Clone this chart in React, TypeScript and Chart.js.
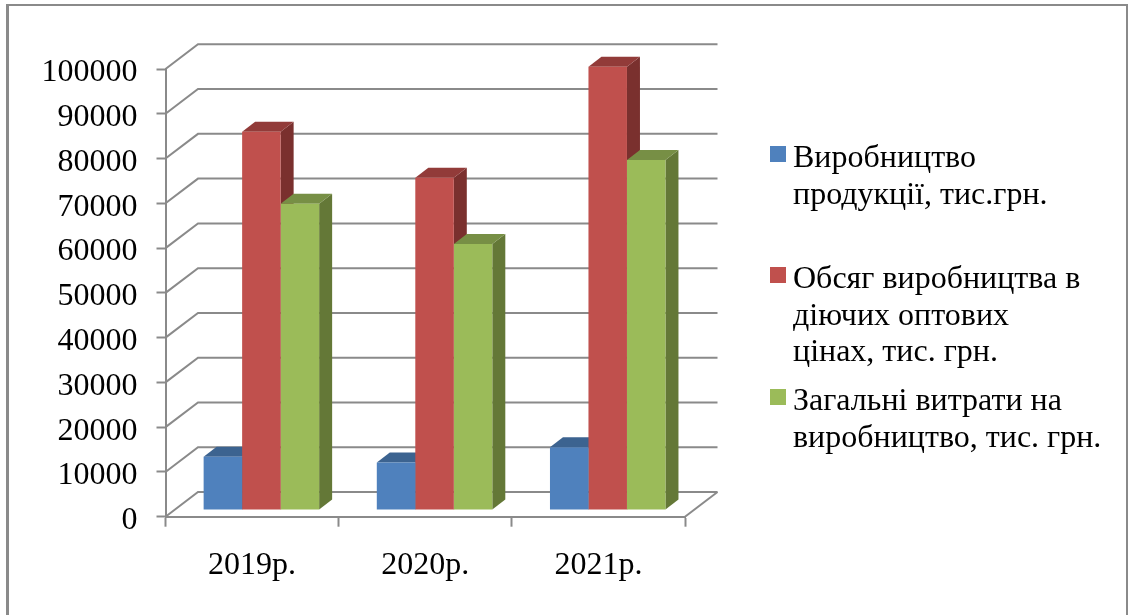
import React, { useEffect, useRef } from "react";
import { Chart, registerables } from "chart.js";

Chart.register(...registerables);

const years = ["2019р.", "2020р.", "2021р."];
const productionOutput = [11900, 10600, 14000];
const wholesaleVolume = [84500, 74200, 99000];
const totalCosts = [68400, 59400, 78200];

const outputLegend = ["Виробництво", "продукції, тис.грн."];
const volumeLegend = ["Обсяг виробництва в", "діючих оптових", "цінах, тис. грн."];
const costsLegend = ["Загальні витрати на", "виробництво, тис. грн."];

const seriesFront = ["#4F81BD", "#C0504D", "#9BBB59"];
const seriesTop = ["#3C6390", "#923B39", "#778F45"];
const seriesSide = ["#335478", "#7A302E", "#647837"];

const GRAY = "#8A8A8A";
const SERIF = '"Liberation Serif", "Times New Roman", serif';

// Oblique projection of the chart box and of the bars inside it
const WALL_DX = 32.5;
const WALL_DY = -24.7;
const BAR_SHIFT_X = 9.3;
const BAR_SHIFT_Y = -6.7;
const BAR_DX = 13;
const BAR_DY = -10;
const Y_LABEL_DROP = 4;

const polygon = (ctx: CanvasRenderingContext2D, pts: number[][], fill: string) => {
  ctx.beginPath();
  pts.forEach(([x, y], i) => (i ? ctx.lineTo(x, y) : ctx.moveTo(x, y)));
  ctx.closePath();
  ctx.fillStyle = fill;
  ctx.fill();
};

// Outer frame of the figure, open at the bottom edge of the page
const framePlugin = {
  id: "frame",
  beforeDraw(chart: any) {
    const { ctx } = chart;
    ctx.save();
    ctx.fillStyle = "#ffffff";
    ctx.fillRect(0, 0, chart.width, chart.height);
    ctx.fillStyle = GRAY;
    ctx.fillRect(6, 4, 3, chart.height - 4);
    ctx.fillRect(6, 4, 1121, 2);
    ctx.fillRect(1126, 4, 2, chart.height - 4);
    ctx.restore();
  },
};

// Value labels sit a little below their tick marks
const labelDropPlugin = {
  id: "labelDrop",
  beforeDraw(chart: any) {
    const scale = chart.scales.y;
    scale.getLabelItems().forEach((item: any) => {
      if (!item.dropped) {
        item.textOffset += Y_LABEL_DROP;
        item.dropped = true;
      }
    });
  },
};

// Side wall, back wall and floor lines, then the depth faces of every bar
const boxPlugin = {
  id: "box",
  beforeDatasetsDraw(chart: any) {
    const { ctx, chartArea, scales } = chart;
    const { left, right, bottom } = chartArea;
    ctx.save();
    ctx.strokeStyle = GRAY;
    ctx.lineWidth = 2;
    ctx.lineJoin = "miter";
    scales.y.ticks.forEach((tick: any) => {
      const y = scales.y.getPixelForValue(tick.value);
      ctx.beginPath();
      ctx.moveTo(left, y);
      ctx.lineTo(left + WALL_DX, y + WALL_DY);
      ctx.lineTo(right + WALL_DX, y + WALL_DY);
      ctx.stroke();
    });
    ctx.beginPath();
    ctx.moveTo(right, bottom);
    ctx.lineTo(right + WALL_DX, bottom + WALL_DY);
    ctx.stroke();
    ctx.restore();

    ctx.save();
    ctx.translate(BAR_SHIFT_X, BAR_SHIFT_Y);
    chart.data.datasets.forEach((_: any, i: number) => {
      chart.getDatasetMeta(i).data.forEach((bar: any) => {
        const l = bar.x - bar.width / 2;
        const r = bar.x + bar.width / 2;
        polygon(ctx, [[r, bar.y], [r + BAR_DX, bar.y + BAR_DY], [r + BAR_DX, bar.base + BAR_DY], [r, bar.base]], seriesSide[i]);
        polygon(ctx, [[l, bar.y], [l + BAR_DX, bar.y + BAR_DY], [r + BAR_DX, bar.y + BAR_DY], [r, bar.y]], seriesTop[i]);
      });
    });
  },
  afterDatasetsDraw(chart: any) {
    chart.ctx.restore();
  },
};

// Legend with manually broken lines, placed beside the plot
const legendPlugin = {
  id: "wrappedLegend",
  afterDraw(chart: any) {
    const { ctx } = chart;
    const entries = [
      { lines: outputLegend, baseline: 167 },
      { lines: volumeLegend, baseline: 288 },
      { lines: costsLegend, baseline: 410 },
    ];
    ctx.save();
    ctx.font = `32px ${SERIF}`;
    ctx.textAlign = "left";
    ctx.textBaseline = "alphabetic";
    entries.forEach(({ lines, baseline }, i) => {
      ctx.fillStyle = seriesFront[i];
      ctx.fillRect(770, baseline - 21, 16, 16);
      ctx.fillStyle = "#000000";
      lines.forEach((line, n) => ctx.fillText(line, 793, baseline + n * 36.7));
    });
    ctx.restore();
  },
};

export default function App() {
  const canvasRef = useRef<HTMLCanvasElement>(null);

  useEffect(() => {
    document.body.style.margin = "0";
    const chart = new Chart(canvasRef.current!, {
      type: "bar",
      data: {
        labels: years,
        datasets: [
          { label: outputLegend.join(" "), data: productionOutput, backgroundColor: seriesFront[0], clip: false },
          { label: volumeLegend.join(" "), data: wholesaleVolume, backgroundColor: seriesFront[1], clip: false },
          { label: costsLegend.join(" "), data: totalCosts, backgroundColor: seriesFront[2], clip: false },
        ],
      },
      options: {
        responsive: false,
        animation: false,
        layout: { padding: { top: 69, right: 443, left: 0, bottom: 0 } },
        datasets: { bar: { barPercentage: 1, categoryPercentage: 0.667 } },
        plugins: { legend: { display: false }, tooltip: { enabled: false } },
        scales: {
          x: {
            grid: { offset: true, drawOnChartArea: false, color: GRAY, tickLength: 10, tickWidth: 2 },
            border: { color: GRAY, width: 2 },
            ticks: { color: "#000", font: { family: SERIF, size: 32 }, padding: 20, maxRotation: 0 },
            afterFit: (scale: any) => {
              scale.height = 98.3;
            },
          },
          y: {
            min: 0,
            max: 100000,
            grid: { drawOnChartArea: false, color: GRAY, tickLength: 9, tickWidth: 2 },
            border: { color: GRAY, width: 2 },
            ticks: {
              stepSize: 10000,
              color: "#000",
              font: { family: SERIF, size: 32 },
              padding: 19,
              callback: (value: any) => String(value),
            },
            afterFit: (scale: any) => {
              scale.width = 165.5;
            },
          },
        },
      },
      plugins: [framePlugin, labelDropPlugin, boxPlugin, legendPlugin],
    } as any);
    return () => chart.destroy();
  }, []);

  return <canvas ref={canvasRef} width={1128} height={615} style={{ display: "block" }} />;
}
